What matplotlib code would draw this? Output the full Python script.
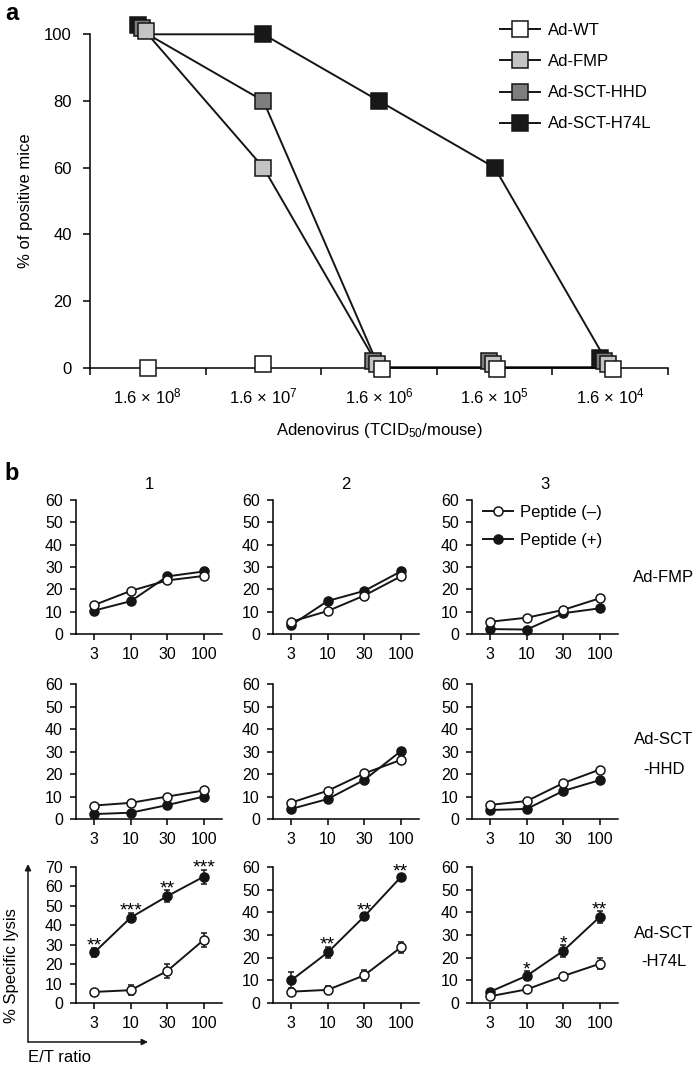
import matplotlib
matplotlib.use("Agg")
import matplotlib.pyplot as plt
from matplotlib.lines import Line2D
from matplotlib.patches import FancyArrowPatch
from matplotlib.transforms import ScaledTranslation

plt.rcParams['font.family'] = ['Liberation Sans', 'DejaVu Sans']
plt.rcParams['mathtext.fontset'] = 'custom'
plt.rcParams['mathtext.rm'] = 'Liberation Sans'
plt.rcParams['mathtext.it'] = 'Liberation Sans'
plt.rcParams['axes.linewidth'] = 1.1

# ---------------- data: panel a ----------------
doses = ["1.6 × 10$^{8}$", "1.6 × 10$^{7}$", "1.6 × 10$^{6}$", "1.6 × 10$^{5}$", "1.6 × 10$^{4}$"]
series_names = ["Ad-WT", "Ad-FMP", "Ad-SCT-HHD", "Ad-SCT-H74L"]
ad_wt = [0, 1, 0, 0, 0]
ad_fmp = [100, 60, 0, 0, 0]
ad_sct_hhd = [100, 80, 0, 0, 0]
ad_sct_h74l = [100, 100, 80, 60, 0]

# ---------------- data: panel b ----------------
et_labels = ["3", "10", "30", "100"]
col_titles = ["1", "2", "3"]
row_labels = [["Ad-FMP"], ["Ad-SCT", "-HHD"], ["Ad-SCT", "-H74L"]]
neg_fmp = [[13, 19.3, 24, 26], [5.5, 10.3, 17.2, 25.8], [5.5, 7.3, 10.8, 16]]
pos_fmp = [[10.5, 14.7, 25.8, 28], [4, 14.8, 19.3, 28], [2.2, 2, 9.3, 11.5]]
neg_hhd = [[6, 7.2, 10, 12.7], [7.3, 12.6, 20.3, 26.3], [6.3, 8, 16, 22]]
pos_hhd = [[2.2, 2.8, 6.2, 10], [4.5, 8.9, 17.4, 30.2], [4, 4.5, 12.5, 17.3]]
neg_h74l = [[5.7, 6.6, 16.5, 32.5], [5, 5.8, 12.2, 24.5], [3, 6, 11.9, 17.3]]
pos_h74l = [[26, 44, 55, 65], [10, 22.3, 38.2, 55.5], [5, 12, 23, 38]]
neg_h74l_err = [[1, 2.5, 3.5, 3.5], [1.2, 1.5, 2.5, 2.5], [0.8, 1.5, 1.5, 2.5]]
pos_h74l_err = [[2.5, 2.5, 3, 3.5], [3.5, 2.5, 1.5, 1.5], [1, 2, 2.5, 2.5]]
h74l_sig = [["**", "***", "**", "***"], ["", "**", "**", "**"], ["", "*", "*", "**"]]

W, H = 700, 1071
fig = plt.figure(figsize=(W / 100, H / 100), dpi=100)


def fx(x):
    return x / W


def fy(y):
    return 1 - y / H


def rect(l, t, r, b):
    return [fx(l), fy(b), (r - l) / W, (b - t) / H]


FS = 12
TFS = 12
TFSB = 11.5
INK = "#151515"

# ================= panel a =================
axa = fig.add_axes(rect(90, 34.3, 668, 367.5))
colors = {"Ad-WT": "#ffffff", "Ad-FMP": "#c4c4c4", "Ad-SCT-HHD": "#7e7e7e", "Ad-SCT-H74L": "#181818"}
vals = {"Ad-WT": ad_wt, "Ad-FMP": ad_fmp, "Ad-SCT-HHD": ad_sct_hhd, "Ad-SCT-H74L": ad_sct_h74l}
# small visual offsets (points) for overlapping markers
offs = {"Ad-SCT-H74L": (-7.0, 7.0), "Ad-SCT-HHD": (-4.3, 4.8), "Ad-FMP": (-1.4, 2.5), "Ad-WT": (1.8, -1.4)}
xs = [i + 0.5 for i in range(len(doses))]
draw_order = ["Ad-SCT-H74L", "Ad-SCT-HHD", "Ad-FMP", "Ad-WT"]
for name in draw_order:
    if name == "Ad-WT":
        continue
    axa.plot(xs, vals[name], color=INK, lw=1.4, zorder=2, clip_on=False)
for name in draw_order:
    for i, v in enumerate(vals[name]):
        n_same = sum(1 for o in series_names if vals[o][i] == v)
        dx, dy = offs[name] if n_same > 1 else (0, 0)
        tr = axa.transData + ScaledTranslation(dx / 72, dy / 72, fig.dpi_scale_trans)
        axa.plot([xs[i]], [v], marker="s", ms=11.5, mfc=colors[name], mec=INK,
                 mew=1.1, ls="none", transform=tr, zorder=3 + draw_order.index(name), clip_on=False)

axa.set_xlim(0, 5)
axa.set_ylim(0, 100)
axa.set_yticks([0, 20, 40, 60, 80, 100])
axa.set_xticks(range(6))
axa.set_xticklabels([])
axa.set_xticks(xs, minor=True)
axa.set_xticklabels(doses, minor=True, fontsize=TFS)
axa.tick_params(axis="x", which="minor", length=0, pad=14)
axa.tick_params(axis="x", which="major", length=5, width=1.1)
axa.tick_params(axis="y", length=5, width=1.1, labelsize=TFS, pad=8)
for s in ["top", "right"]:
    axa.spines[s].set_visible(False)
axa.set_ylabel("% of positive mice", fontsize=FS)
axa.yaxis.set_label_coords(-0.098, 0.5)
axa.set_xlabel("Adenovirus (TCID$_{50}$/mouse)", fontsize=FS)
axa.xaxis.set_label_coords(0.5, -0.16)

handles = [Line2D([0], [0], color=INK, lw=1.4, marker="s", ms=11.5,
                  mfc=colors[n], mec=INK, mew=1.1) for n in series_names]
fig.legend(handles, series_names, loc="upper left", bbox_to_anchor=(fx(500), fy(23)),
           frameon=False, fontsize=FS, handlelength=2.4, handletextpad=0.45,
           labelspacing=0.97, borderpad=0, borderaxespad=0, numpoints=1)

fig.text(fx(12), fy(14), "a", fontsize=17, fontweight="bold", ha="center", va="center")

# ================= panel b =================
fig.text(fx(12), fy(474), "b", fontsize=17, fontweight="bold", ha="center", va="center")
cols = [(76, 222), (273, 419), (472, 618)]
rows = [(500, 634), (684.3, 819), (867, 1003)]
neg_rows = [neg_fmp, neg_hhd, neg_h74l]
pos_rows = [pos_fmp, pos_hhd, pos_h74l]
xb = list(range(len(et_labels)))

for r, (t, b) in enumerate(rows):
    for c, (l, rr) in enumerate(cols):
        ax = fig.add_axes(rect(l, t, rr, b))
        neg = neg_rows[r][c]
        pos = pos_rows[r][c]
        if r == 2:
            ax.errorbar(xb, pos, yerr=pos_h74l_err[c], color=INK, lw=1.4, marker="o",
                        ms=6.5, mfc=INK, mec=INK, mew=1.1, capsize=2.5,
                        elinewidth=1.1, capthick=1.1, clip_on=False, zorder=3)
            ax.errorbar(xb, neg, yerr=neg_h74l_err[c], color=INK, lw=1.4, marker="o",
                        ms=6.5, mfc="white", mec=INK, mew=1.1, capsize=2.5,
                        elinewidth=1.1, capthick=1.1, clip_on=False, zorder=4)
            for i, s in enumerate(h74l_sig[c]):
                if s:
                    ax.annotate(s, (xb[i], pos[i] + pos_h74l_err[c][i]), xytext=(0, -2.0),
                                textcoords="offset points", ha="center", va="baseline",
                                fontsize=14)
        else:
            lp, = ax.plot(xb, pos, color=INK, lw=1.4, marker="o", ms=6.5, mfc=INK,
                          mec=INK, mew=1.1, clip_on=False, zorder=3, label="Peptide (+)")
            ln, = ax.plot(xb, neg, color=INK, lw=1.4, marker="o", ms=6.5, mfc="white",
                          mec=INK, mew=1.1, clip_on=False, zorder=4, label="Peptide (\u2013)")
            if r == 0 and c == 2:
                fig.legend([ln, lp], ["Peptide (\u2013)", "Peptide (+)"], loc="upper left",
                           bbox_to_anchor=(fx(483), fy(505)), frameon=False, fontsize=FS,
                           handlelength=1.8, handletextpad=0.45, labelspacing=0.75,
                           borderpad=0, borderaxespad=0, numpoints=1)
        ax.set_xlim(-0.5, 3.5)
        if r == 2 and c == 0:
            ax.set_ylim(0, 70)
            ax.set_yticks(range(0, 71, 10))
        else:
            ax.set_ylim(0, 60)
            ax.set_yticks(range(0, 61, 10))
        ax.set_xticks(xb)
        ax.set_xticklabels(et_labels)
        ax.tick_params(axis="both", length=4.5, width=1.1, labelsize=TFSB)
        ax.tick_params(axis="y", pad=5)
        ax.tick_params(axis="x", pad=5)
        for s in ["top", "right"]:
            ax.spines[s].set_visible(False)
        if r == 0:
            ax.set_title(col_titles[c], fontsize=FS, pad=8)

# row labels
row_label_y = [[578], [740, 769], [933, 961]]
for lbls, ys in zip(row_labels, row_label_y):
    for s, yy in zip(lbls, ys):
        fig.text(fx(664), fy(yy), s, fontsize=FS, ha="center", va="center")

# axis arrows for lower-left panel
arrow = dict(arrowstyle="-|>", lw=1.1, color=INK, mutation_scale=9, shrinkA=0, shrinkB=0)
fig.add_artist(FancyArrowPatch((fx(28), fy(1042)), (fx(28), fy(864)),
                               transform=fig.transFigure, **arrow))
fig.add_artist(FancyArrowPatch((fx(28), fy(1042)), (fx(148), fy(1042)),
                               transform=fig.transFigure, **arrow))
fig.text(fx(12), fy(966), "% Specific lysis", fontsize=FS, rotation=90, ha="center", va="center")
fig.text(fx(28), fy(1058), "E/T ratio", fontsize=FS, ha="left", va="center")

fig.savefig("out.png", dpi=100)
